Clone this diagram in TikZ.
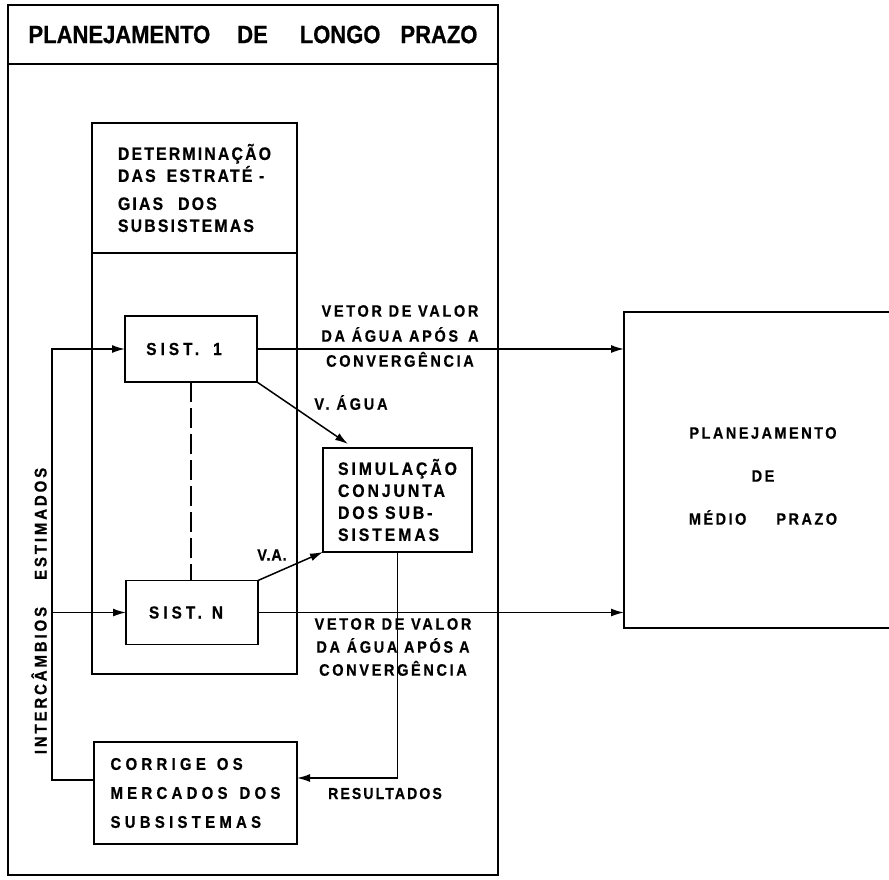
\documentclass[tikz,border=0pt]{standalone}
\usepackage{fontspec}
\setmainfont{Liberation Sans Bold}[FakeStretch=0.88,FakeBold=0.6]
\usetikzlibrary{arrows.meta,calc}
\newcommand\ffs[3]{\fontsize{#1}{#2}\selectfont\addfontfeature{LetterSpace=#3}}
\begin{document}
\begin{tikzpicture}[x=1pt,y=-1pt,
  blk/.style={draw,line width=1.7pt,inner sep=0pt,outer sep=0pt},
  arr/.style={line width=1.5pt,-{Latex[length=13pt,width=8pt]}},
  lab/.style={inner sep=0pt,outer sep=0pt,align=center}]
\clip (0,0) rectangle (889,879);
% outer box
\node[blk,minimum width=490pt,minimum height=59pt,font=\ffs{25}{30}{0}] (title) at (253,34.5)
  {PLANEJAMENTO\hspace{27pt}DE\hspace{32pt}LONGO\hspace{20pt}PRAZO};
\node[blk,minimum width=490pt,minimum height=811pt] (outer) at (253,469.5) {};
% inner box
\node[blk,minimum width=205pt,minimum height=130pt,align=left,font=\ffs{18}{22}{12}] (dethead) at (194.5,188)
  {DETERMINAÇÃO\\DAS\hspace{11pt}ESTRATÉ -\\[6pt]GIAS\hspace{15pt}DOS\\SUBSISTEMAS};
\node[blk,minimum width=205pt,minimum height=421pt] (detbody) at (194.5,463.5) {};
% subsystems
\node[blk,minimum width=132pt,minimum height=66pt,font=\ffs{17.5}{21}{23}] (s1) at (191,349)
  {SIST.\hspace{14pt}1\hspace*{14pt}};
\node[blk,minimum width=132pt,minimum height=64pt,font=\ffs{17.5}{21}{23}] (sN) at (192,612.5)
  {SIST.\hspace{10pt}N\hspace*{12pt}};
\node[blk,minimum width=149pt,minimum height=104pt,align=left,font=\ffs{18}{22}{16}] (sim) at (397.5,500)
  {SIMULAÇÃO\\CONJUNTA\\DOS\hspace{7pt}SUB-\\SISTEMAS};
\node[blk,minimum width=203pt,minimum height=102pt,align=left,font=\ffs{17}{29}{25}] (cor) at (195.5,793)
  {CORRIGE\hspace{11pt}OS\\MERCADOS\hspace{12pt}DOS\\SUBSISTEMAS};
\node[blk,minimum width=278pt,minimum height=316pt] (medio) at (763,470) {};
\node[lab,font=\ffs{16.5}{43}{15}] (mediotxt) at (763,476)
  {PLANEJAMENTO\\DE\\MÉDIO\hspace{30pt}PRAZO};
% labels
\node[lab,font=\ffs{16.5}{25}{16}] (vt1) at (400,336)
  {VETOR DE VALOR\\DA ÁGUA APÓS\hspace{10pt}A\\CONVERGÊNCIA};
\node[lab,font=\ffs{16.5}{23}{16}] (vt2) at (393,647)
  {VETOR DE VALOR\\DA ÁGUA APÓS\hspace{6pt}A\\CONVERGÊNCIA};
\node[lab,font=\ffs{16.5}{20}{17}] (valab) at (351,402.5) {V. ÁGUA};
\node[lab,font=\ffs{16.5}{20}{5}] (valab2) at (272,555) {V.A.};
\node[lab,font=\ffs{16}{20}{13}] (res) at (385,793.5) {RESULTADOS};
\node[lab,rotate=90,font=\ffs{17}{20}{17}] (inter) at (39,611)
  {INTERCÂMBIOS\hspace{27pt}ESTIMADOS};
% coordinates
\coordinate (bus) at (52,0);
\coordinate (vatip) at (348,444);
% connectors
\draw[line width=1.5pt,dash pattern=on 20pt off 6pt] (s1.south) -- (s1.south |- sN.north);
\draw[arr] (s1.east) -- (s1.east -| medio.west);
\draw[arr] (sN.east) -- (sN.east -| medio.west);
\draw[arr] (s1.south east) -- (vatip);
\draw[arr] (sN.north east) -- (sim.south west);
\draw[arr] (sim.south) |- ($(cor.east)+(0,-15)$);
\draw[arr] ($(cor.west)+(0,-13)$) -| (bus |- s1.west) -- (s1.west);
\draw[arr] (bus |- sN.west) -- (sN.west);
\end{tikzpicture}
\end{document}
